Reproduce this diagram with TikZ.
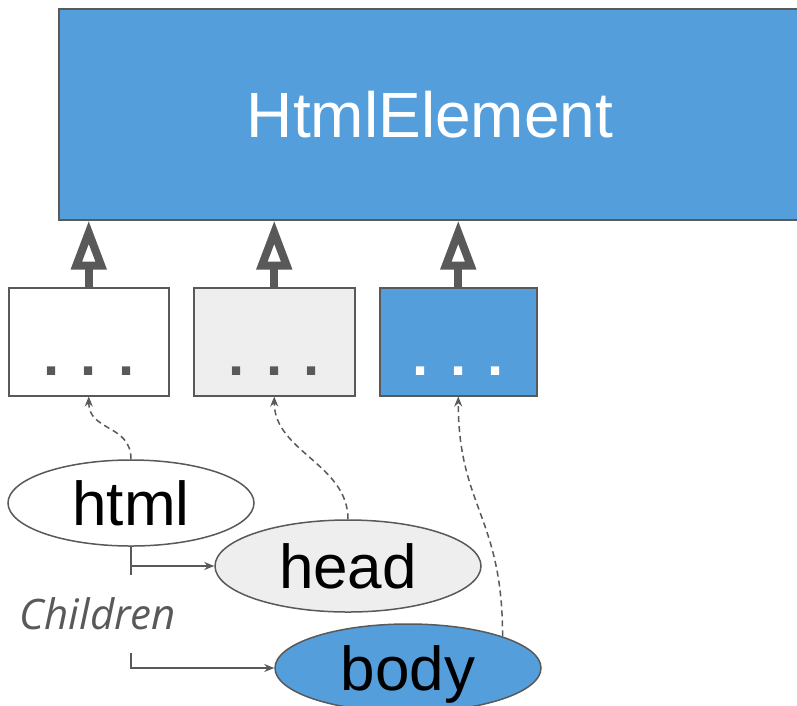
\documentclass[tikz,border=0pt]{standalone}
\usepackage{fontspec}
\setmainfont{Liberation Sans}
\newfontfamily\notefont{Open Sans}
\usetikzlibrary{arrows.meta,shapes.geometric}
\definecolor{elemblue}{RGB}{84,158,219}
\definecolor{edgegray}{RGB}{89,89,89}
\definecolor{palegray}{RGB}{238,238,238}

\begin{document}
\begin{tikzpicture}[x=1pt,y=-1pt,
  box/.style={draw=edgegray, line width=1.5pt, rectangle, anchor=north west, inner sep=0pt},
  dots/.style={font=\fontsize{58}{58}\selectfont\bfseries, inner sep=0pt},
  tag/.style={ellipse, draw=edgegray, line width=1.5pt, inner sep=0pt,
    text depth=0pt, font=\fontsize{62}{62}\selectfont},
  inherit/.style={draw=edgegray, line width=8pt,
    -{Triangle[open, length=49pt, width=34pt]}},
  dep/.style={draw=edgegray, line width=1.5pt, dash pattern=on 6pt off 4pt,
    -{Stealth[length=10pt, width=8pt]}},
  child/.style={draw=edgegray, line width=1.3pt},
  childarrow/.style={child, -{Stealth[length=10pt, width=8pt]}}
]
\clip (0,0) rectangle (797,705);

% base class
\node[box, fill=elemblue, minimum width=780pt, minimum height=211pt] (top) at (58,8) {};
\node[text=white, font=\fontsize{64}{64}\selectfont] (toplabel) at (430,115) {HtmlElement};

% element classes
\node[box, fill=white, minimum width=160pt, minimum height=108pt] (c1) at (8,287) {};
\node[box, fill=palegray, minimum width=161pt, minimum height=108pt] (c2) at (193,287) {};
\node[box, fill=elemblue, minimum width=157pt, minimum height=108pt] (c3) at (379,287) {};
\node[dots, text=edgegray] (d1) at ([yshift=-29pt]c1.center) {. . .};
\node[dots, text=edgegray] (d2) at ([yshift=-29pt]c2.center) {. . .};
\node[dots, text=white] (d3) at ([yshift=-29pt]c3.center) {. . .};

% inheritance
\draw[inherit] (c1.north) -- (c1.north |- top.south);
\draw[inherit] (c2.north) -- (c2.north |- top.south);
\draw[inherit] (c3.north) -- (c3.north |- top.south);

% element instances
\node[tag, fill=white, minimum width=246pt, minimum height=86pt] (html) at (131,503) {html};
\node[tag, fill=palegray, minimum width=266pt, minimum height=92pt] (head) at (348,566) {head};
\node[tag, fill=elemblue, minimum width=266pt, minimum height=88pt] (body) at (408,668) {body};

% instance-of links
\draw[dep] (html.north) .. controls +(0,-35) and +(0,35) .. (c1.south);
\draw[dep] (head.north) .. controls +(0,-55) and +(0,55) .. (c2.south);
\draw[dep] (body.north east) .. controls +(0,-120) and +(0,110) .. (c3.south);

% children
\coordinate (gaptop) at (131,575);
\coordinate (gapbot) at (131,653);
\draw[child] (html.south) -- (gaptop);
\draw[childarrow] (html.south |- head.west) -- (head.west);
\draw[childarrow] (gapbot) |- (body.west);
\node[text=edgegray, font=\notefont\itshape\fontsize{42}{42}\selectfont] (childlabel) at (98,614) {Children};
\end{tikzpicture}
\end{document}
